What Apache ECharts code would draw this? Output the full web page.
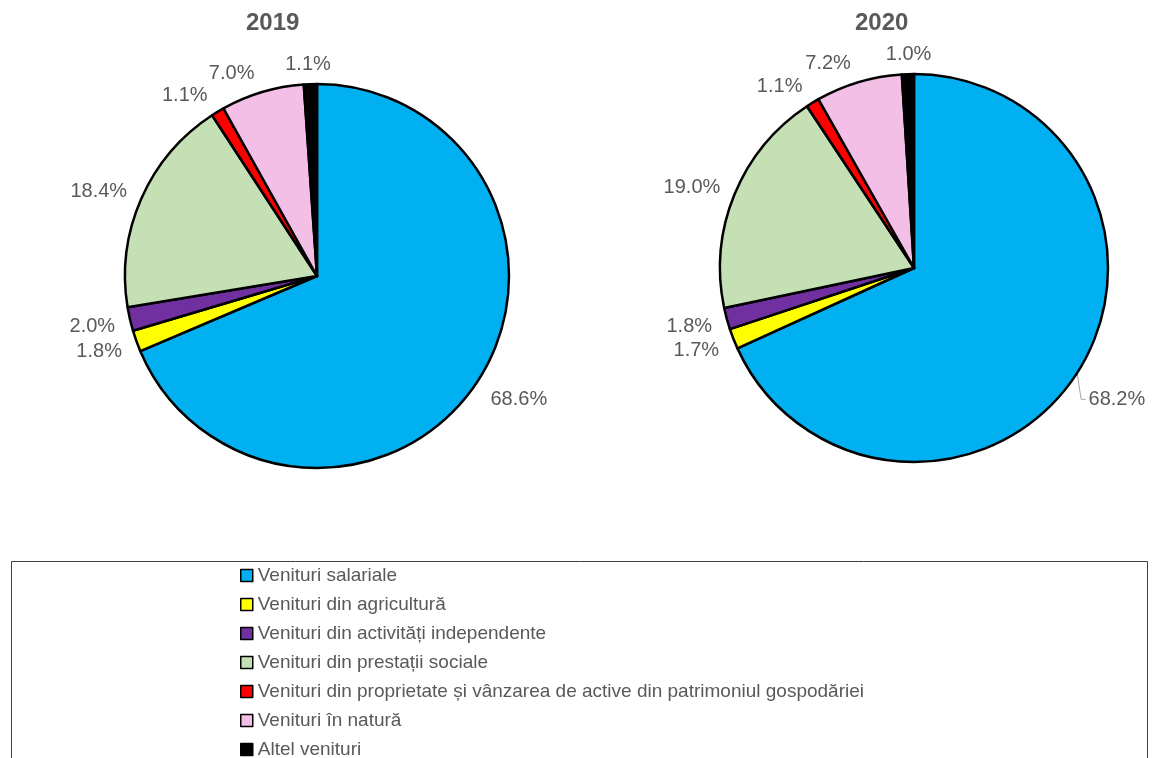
<!DOCTYPE html>
<html>
<head>
<meta charset="utf-8">
<script src="https://cdn.jsdelivr.net/npm/echarts@6/dist/echarts.min.js"></script>
<style>
html,body{margin:0;padding:0;background:#fff;}
#c{width:1163px;height:758px;}
</style>
</head>
<body>
<div id="c"></div>
<script>
const categories = [
  'Venituri salariale',
  'Venituri din agricultură',
  'Venituri din activități independente',
  'Venituri din prestații sociale',
  'Venituri din proprietate și vânzarea de active din patrimoniul gospodăriei',
  'Venituri în natură',
  'Altel venituri'
];
const colors = ['#00B0F0', '#FFFF00', '#7030A0', '#C5E0B4', '#FF0000', '#F3BFE6', '#000000'];
const years = ['2019', '2020'];
const values2019 = [68.6, 1.8, 2.0, 18.4, 1.1, 7.0, 1.1];
const values2020 = [68.2, 1.7, 1.8, 19.0, 1.1, 7.2, 1.0];

const FONT = '"Liberation Sans", Arial, sans-serif';
const TXT = '#595959';
const centers = [[317, 276], [914, 268]];
const radii = [192, 194];

function makeData(vals, showFirstLine) {
  return vals.map((v, i) => {
    const d = { name: categories[i], value: v, itemStyle: { color: colors[i] } };
    if (i === 0 && showFirstLine) {
      d.labelLine = { show: true, lineStyle: { color: '#A6A6A6', width: 1 } };
    }
    return d;
  });
}

const pieBase = {
  type: 'pie',
  startAngle: 90,
  clockwise: true,
  avoidLabelOverlap: false,
  animation: false,
  itemStyle: { borderColor: '#000', borderWidth: 2.5 },
  emphasis: { disabled: true },
  label: {
    show: true,
    position: 'outside',
    formatter: p => p.value.toFixed(1) + '%',
    fontFamily: FONT,
    fontSize: 20,
    color: TXT
  },
  labelLine: { show: false, length: 10, length2: 0 }
};

function layoutFn(si) {
  const c = centers[si];
  const last = categories.length - 1;
  return function (p) {
    const r = p.labelRect;
    const lx = r.x + r.width / 2 - c[0];
    const ly = r.y + r.height / 2 - c[1];
    const n = Math.hypot(lx, ly) || 1;
    const ny = ly / n;
    const res = { dy: ny * (ny < 0 ? 10 : 24) };
    if (p.dataIndex === last) {
      res.align = 'center';
      res.dx = si === 0 ? 3 : 6;
    }
    if (si === 1 && p.dataIndex === 0) {
      res.dy = 21;
      res.dx = -2;
      const pts = p.labelLinePoints;
      if (pts && pts.length) {
        const e = pts[0];
        const cy = r.y + r.height / 2 + 21;
        const endX = r.x - 2 - 3;
        res.labelLinePoints = [[e[0], e[1]], [e[0] + 4, cy], [endX, cy]];
      }
    }
    return res;
  };
}

const chart = echarts.init(document.getElementById('c'), null, { renderer: 'canvas' });
chart.setOption({
  animation: false,
  color: colors,
  title: [
    { text: years[0], left: 246, top: 11, padding: 0, textStyle: { fontFamily: FONT, fontSize: 24, fontWeight: 'bold', color: TXT } },
    { text: years[1], left: 855, top: 11, padding: 0, textStyle: { fontFamily: FONT, fontSize: 24, fontWeight: 'bold', color: TXT } }
  ],
  legend: {
    orient: 'vertical',
    left: 240,
    top: 566,
    height: 200,
    padding: 0,
    itemWidth: 12,
    itemHeight: 12,
    itemGap: 10,
    icon: 'rect',
    itemStyle: { borderColor: '#000', borderWidth: 1.5 },
    textStyle: { fontFamily: FONT, fontSize: 19, color: TXT, lineHeight: 19 },
    data: categories,
    selectedMode: false
  },
  graphic: [
    { type: 'rect', shape: { x: 11.5, y: 561.5, width: 1136, height: 230 }, style: { fill: 'none', stroke: '#404040', lineWidth: 1 }, silent: true }
  ],
  series: [
    Object.assign({}, pieBase, { name: years[0], center: centers[0], radius: radii[0], data: makeData(values2019, false), labelLayout: layoutFn(0) }),
    Object.assign({}, pieBase, { name: years[1], center: centers[1], radius: radii[1], data: makeData(values2020, true), labelLayout: layoutFn(1) })
  ]
});
</script>
</body>
</html>
